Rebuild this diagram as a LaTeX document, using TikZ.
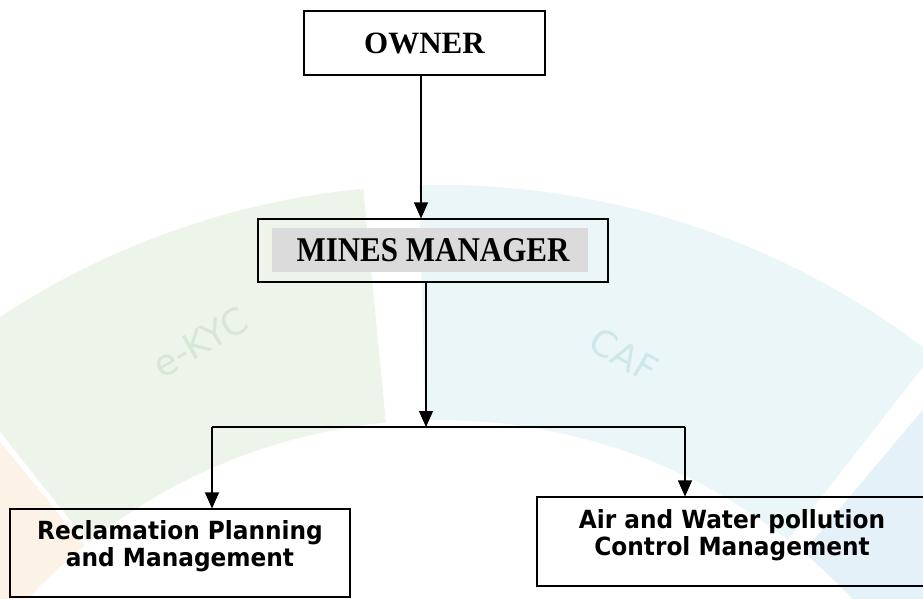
\documentclass[tikz,border=0pt]{standalone}
\usepackage{fontspec}
\usetikzlibrary{arrows.meta,calc}
\newfontfamily\boxserif{Liberation Serif}
\newfontfamily\boxsans{DejaVu Sans}[FakeStretch=0.93]
\newfontfamily\wmsans{DejaVu Sans}
\definecolor{wgreen}{HTML}{EDF4EA}
\definecolor{worange}{HTML}{FDF2E6}
\definecolor{wcyan}{HTML}{EAF6F7}
\definecolor{wblue}{HTML}{E5F1F9}
\definecolor{wtgreen}{HTML}{D6E8D3}
\definecolor{wtcyan}{HTML}{CFE7EA}
\newcommand\ringseg[3]{%
  \fill[#1] ($(wc)+(-#2:800)$) arc[start angle=-#2, end angle=-#3, radius=800]
    -- ($(wc)+(-#3:565)$) arc[start angle=-#3, end angle=-#2, radius=565] -- cycle;}
\begin{document}
\begin{tikzpicture}[x=1pt,y=-1pt,
  box/.style={draw=black, line width=1.1pt, inner sep=0pt},
  conn/.style={draw=black, line width=1.1pt},
  arr/.style={conn, -{Triangle[length=16pt,width=14pt]}},
  tserif/.style={font=\boxserif\bfseries\fontsize{31}{31}\selectfont},
  tsans/.style={font=\boxsans\bfseries\fontsize{25}{27}\selectfont, align=center, inner sep=0pt},
  wm/.style={font=\wmsans\fontsize{36}{36}\selectfont}]
\useasboundingbox (0,0) rectangle (923,599);
\fill[white] (0,0) rectangle (923,599);
% faint watermark
\begin{scope}
  \clip (0,0) rectangle (923,599);
  \coordinate (wc) at (440,985);
  \ringseg{wgreen}{95.5}{128.5}
  \ringseg{worange}{129}{180}
  \ringseg{wcyan}{52}{91.5}
  \ringseg{wblue}{10}{50}
  \node[wm, text=wtgreen, rotate=30] (ekyc) at (200,342) {e-KYC};
  \node[wm, text=wtcyan, rotate=-30] (caf) at (624,355) {CAF};
\end{scope}
% boxes
\node[box, minimum width=241pt, minimum height=64pt, tserif] (owner) at (424.5,43) {OWNER};
\fill[gray!28] (272,228) rectangle (588,272);
\node[box, minimum width=350pt, minimum height=63pt, tserif] (mgr) at (433,250.5) {\scalebox{1}[1.12]{MINES MANAGER}};
\node[box, minimum width=340pt, minimum height=88pt] (recl) at (180,553) {};
\node[tsans] (recltxt) at (180,546.5) {Reclamation Planning\\and Management};
\node[box, minimum width=390pt, minimum height=89pt] (air) at (732,541.5) {};
\node[tsans] (airtxt) at (732,535) {Air and Water pollution\\Control Management};
% connectors
\draw[arr] ([xshift=-3.5pt]owner.south) -- ([xshift=-12pt]mgr.north);
\coordinate (split) at (426,427);
\coordinate (lbar) at (212,427);
\coordinate (rbar) at (685,427);
\draw[arr] ([xshift=-7pt]mgr.south) -- (split);
\draw[conn] (lbar) -- (rbar);
\draw[arr] (lbar) -- (lbar |- recl.north);
\draw[arr] (rbar) -- (rbar |- air.north);
\end{tikzpicture}
\end{document}
